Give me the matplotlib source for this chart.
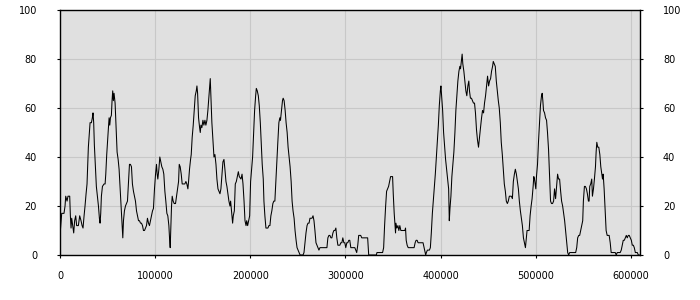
import numpy as np
import matplotlib
matplotlib.use("Agg")
import matplotlib.pyplot as plt

# positions in thousands, values in percent
pos_k = [
    0, 1.8, 4.2, 5.3, 6.0, 7.4, 8.4, 10.2, 10.9, 11.6, 12.3, 13.3, 14.4, 15.4, 16.5,
    17.5, 19.3, 20.7, 22.1, 23.2, 24.2, 25.3, 26.3, 27.4, 28.4, 29.1, 29.8, 30.5,
    31.6, 33.0, 34.0, 34.7, 35.4, 36.1, 37.2, 38.2, 39.3, 40.4, 41.4, 42.1, 42.8,
    43.5, 44.6, 46.3, 47.4, 48.1, 49.1, 50.2, 50.9, 51.6, 52.3, 53.0, 54.0, 54.7,
    55.4, 56.1, 56.8, 57.9, 58.9, 60.0, 61.1, 62.1, 63.2, 64.2, 65.3, 66.0, 66.7,
    67.7, 68.8, 69.8, 70.9, 71.9, 73.0, 74.0, 75.1, 76.1, 77.2, 78.2, 79.3, 80.4,
    81.4, 82.5, 83.5, 84.6, 85.6, 86.7, 87.7, 88.8, 89.8, 90.9, 91.9, 93.0, 94.0,
    95.1, 96.1, 97.2, 98.2, 99.3, 100.4, 101.4, 102.1, 102.8, 103.9, 104.9, 106.0,
    107.0, 108.1, 109.1, 110.2, 111.2, 112.3, 113.3, 114.4, 115.1, 115.8, 116.5,
    117.2, 117.9, 118.9, 120.0, 121.4, 122.5, 123.5, 124.6, 125.3, 126.3, 127.4,
    128.4, 129.5, 131.2, 132.3, 133.3, 134.4, 135.1, 136.1, 137.2, 137.9, 138.9,
    140.0, 141.1, 142.1, 143.2, 143.9, 144.6, 145.6, 146.7, 147.4, 148.1, 149.1,
    150.2, 151.2, 152.3, 153.3, 154.4, 155.4, 156.5, 157.2, 157.9, 158.6, 159.6,
    160.7, 161.8, 162.8, 163.9, 164.9, 166.0, 167.0, 168.1, 169.1, 170.2, 171.2,
    172.3, 173.3, 174.4, 175.4, 176.5, 177.5, 178.6, 179.3, 180.0, 180.7, 181.4,
    182.1, 183.2, 184.2, 185.3, 186.3, 187.4, 188.4,
    190.2, 191.3, 192.3, 193.4, 194.4, 195.5, 196.2, 197.2, 198.3, 199.3, 200.3,
    201.4, 202.4, 203.5, 204.5, 205.6, 206.3, 207.3, 208.4, 209.4, 210.5, 211.5,
    212.5, 213.6, 214.3, 215.3, 216.4, 217.4, 218.5, 219.5, 220.6, 221.6, 222.6,
    223.7, 224.7, 225.8, 226.8, 227.9, 228.9, 230.0, 231.0, 231.7, 232.8, 233.8,
    234.5, 235.5, 236.6, 237.6, 238.7, 239.7, 240.8, 241.8, 242.9, 243.9, 244.9,
    246.0, 247.0, 248.1, 249.1, 250.2, 251.2, 252.3, 253.3, 254.4, 255.4, 256.4,
    257.5, 258.5, 259.6, 260.6, 261.7, 262.7, 263.8, 264.8, 265.9, 266.9, 267.9,
    269.0, 270.0, 271.1, 272.1, 273.2, 274.2, 275.3, 276.3, 277.4, 278.4, 279.4,
    280.5, 281.5, 282.6, 283.6, 284.7, 285.7, 286.8, 287.8, 288.9, 289.9, 290.9,
    292.0, 293.0, 294.1, 295.1, 296.2, 297.2, 298.3, 299.3, 300.3, 301.4, 302.4,
    303.5, 304.5, 305.6, 306.6, 307.7, 308.7, 309.8, 310.8, 311.8, 312.9, 313.9,
    315.0, 316.0, 317.1, 318.1, 319.2, 320.2, 321.3, 322.3, 323.3, 324.4, 328.6,
    332.4, 333.1, 334.1, 335.2, 337.3, 339.0, 340.1, 341.1, 342.2, 343.2, 344.3,
    345.3, 346.3, 347.4, 348.4, 349.5, 350.2, 351.2, 351.9, 352.6, 353.0, 354.0,
    355.1, 356.1, 357.1, 358.2, 359.2, 360.3, 361.3, 362.4, 363.1, 363.8, 364.8,
    365.9, 366.9, 368.0, 369.0, 370.0, 371.1, 372.1, 373.2, 374.2, 375.3, 376.3,
    377.4, 378.4, 379.4, 380.5, 381.5, 382.6, 383.6, 384.3, 385.0, 386.1, 387.1,
    388.2, 389.2, 390.2, 391.3, 392.3, 393.4, 394.4, 395.5, 396.5, 397.6, 398.6,
    399.7, 400.3, 401.0, 402.1, 403.1, 404.2, 405.2, 406.3, 407.3, 408.4, 409.1,
    409.8, 410.8, 411.8, 412.9, 413.9, 415.0, 416.0, 417.1, 418.1, 419.2, 420.2,
    420.9, 422.0, 422.6, 423.3, 424.4, 425.4, 426.5, 427.5, 428.6, 429.6,
    430.3, 431.3, 432.4, 433.5, 434.5, 435.6, 436.6, 437.7, 438.7, 439.8, 440.8,
    441.9, 443.0, 444.0, 445.1, 446.1, 447.2, 448.2, 449.3, 450.4, 451.4, 452.5,
    453.5, 454.6, 455.3, 456.3, 457.4, 458.5, 459.5, 460.6, 461.6, 462.7, 463.7,
    464.8, 465.8, 466.9, 468.0, 469.0, 470.1, 471.1, 472.2, 473.2, 474.3, 475.4,
    476.4, 477.5, 478.5, 479.6, 480.6, 481.7, 482.7, 483.8, 484.9, 485.9, 487.0,
    488.0, 489.1, 489.8, 490.8, 491.9, 493.0, 494.0, 495.1, 496.1, 497.2, 497.9,
    498.6, 499.3, 500.0, 500.7, 501.8, 502.8, 503.9, 504.9, 506.0, 506.7, 507.4,
    508.1, 509.2, 510.2, 511.3, 512.3, 513.4, 514.4, 515.5, 516.5, 517.6, 518.7,
    519.7, 520.8, 521.8, 522.9, 523.9, 525.0, 526.1, 527.1, 528.2, 529.2, 530.3,
    531.3, 532.4, 533.5, 534.5, 535.6, 536.6, 537.7, 538.7, 539.8, 540.8, 541.9,
    543.0, 544.0, 545.1, 546.1, 547.2, 548.2, 549.3, 550.0, 551.1, 552.1, 553.2,
    554.2, 555.3, 556.0, 556.7, 557.7, 558.8, 559.5, 560.6, 561.6, 562.7, 563.4,
    564.1, 565.1, 566.2, 567.3, 568.3, 569.4, 570.1, 570.8, 571.8, 572.9, 573.9,
    575.0, 576.1, 577.1, 578.2, 579.2, 580.3, 581.3, 582.4, 583.5, 584.5, 585.6,
    586.6, 587.7, 588.7, 589.8, 590.8, 591.9, 593.0, 594.0, 595.1, 596.1, 597.2,
    598.2, 599.3, 600.4, 601.4, 602.5, 603.5, 604.6, 605.6, 606.7, 607.7, 608.8,
]

values = [
    8, 17, 17, 20, 24, 22, 24, 24, 16, 11, 15, 12, 9, 14, 16,
    12, 12, 16, 14, 12, 11, 16, 20, 25, 29, 37, 44, 48,
    54, 54, 56, 58, 54, 45, 36, 28, 24, 20, 15, 13, 17,
    24, 28, 29, 29, 33, 41, 48, 52, 56, 53, 56, 57, 63,
    67, 63, 66, 62, 52, 42, 39, 35, 27, 19, 12, 7, 14,
    18, 20, 21, 22, 29, 37, 37, 36, 29, 26, 24, 22, 18,
    16, 14, 14, 13, 13, 12, 10, 10, 11, 12, 15, 13, 12,
    14, 16, 18, 19, 27, 33, 37, 33, 31, 35, 40, 38,
    36, 35, 33, 26, 22, 17, 16, 12, 7, 3, 12,
    20, 24, 22, 21, 21, 24, 27, 30, 37, 36, 33,
    29, 29, 29, 30, 29, 27, 30, 35, 39, 41, 48,
    53, 59, 65, 67, 69, 66, 56, 52, 50, 53, 52,
    55, 53, 55, 53, 55, 59, 65, 69, 72, 65, 54,
    47, 40, 41, 37, 31, 27, 26, 25, 27, 33, 38,
    39, 35, 30, 28, 25, 22, 20, 22, 19, 16, 13,
    16, 18, 29, 30, 32, 34, 32,
    31, 33, 29, 22, 14, 12, 14, 12, 14, 16, 30,
    35, 40, 50, 59, 65, 68, 67, 65, 61, 54, 45,
    37, 31, 22, 16, 11, 11, 11, 12, 12, 16, 18,
    21, 22, 22, 30, 39, 46, 54, 56, 55, 59, 63,
    64, 63, 59, 54, 50, 44, 40, 36, 30, 22, 18,
    15, 10, 6, 3, 2, 1, 0, 0, 0, 0, 1,
    5, 9, 12, 13, 13, 15, 15, 15, 16, 14, 10,
    5, 4, 3, 2, 3, 3, 3, 3, 3, 3, 3,
    3, 7, 8, 8, 7, 7, 9, 10, 10, 11, 7,
    4, 4, 4, 5, 5, 7, 5, 5, 3, 5, 5,
    6, 6, 3, 3, 3, 3, 3, 2, 1, 4, 8,
    8, 8, 7, 7, 7, 7, 7, 7, 7, 0, 0,
    0, 1, 1, 1, 1, 1, 3, 12, 20, 26, 27,
    28, 30, 32, 32, 32, 25, 17, 13, 9, 13, 11,
    12, 10, 12, 10, 10, 10, 10, 10, 11, 6, 4,
    3, 3, 3, 3, 3, 3, 3, 5, 6, 6, 5,
    5, 5, 5, 5, 5, 3, 1, 0, 1, 2, 2,
    2, 3, 9, 17, 22, 28, 33, 40, 47, 53, 61,
    67, 69, 65, 59, 50, 44, 39, 35, 31, 27, 14,
    19, 24, 32, 37, 42, 50, 59, 65, 71, 75, 77,
    76, 80, 82, 78, 75, 71, 67, 65, 69, 71,
    67, 64, 64, 63, 62, 62, 58, 51, 47, 44, 48,
    52, 56, 59, 58, 62, 65, 69, 73, 69, 71, 72,
    75, 77, 79, 78, 77, 71, 67, 63, 60, 54, 46,
    41, 35, 29, 26, 22, 21, 22, 24, 24, 24, 23,
    30, 33, 35, 33, 30, 27, 22, 18, 15, 12, 7,
    5, 3, 6, 10, 10, 10, 16, 20, 23, 28, 32,
    31, 29, 27, 32, 37, 46, 54, 61, 65, 66, 63,
    59, 58, 56, 55, 50, 43, 33, 22, 21, 21, 22,
    27, 23, 28, 33, 31, 31, 26, 22, 20, 17, 14,
    10, 6, 1, 0, 1, 1, 1, 1, 1, 1, 1,
    3, 7, 8, 8, 10, 12, 14, 22, 28, 28, 27,
    25, 22, 22, 28, 29, 31, 24, 27, 31, 36, 42,
    46, 44, 44, 41, 36, 33, 31, 33, 27, 18, 10,
    8, 8, 8, 5, 1, 1, 1, 1, 1, 0, 1,
    1, 1, 1, 2, 4, 6, 6, 7, 8, 7, 8,
    8, 7, 6, 4, 4, 3, 1, 1, 1, 0, 0,
]

x = np.array(pos_k) * 1000
y = np.array(values)

fig = plt.figure(figsize=(7, 3), dpi=100)
ax = fig.add_axes([60 / 700, 45 / 300, 580 / 700, 245 / 300])
ax.set_facecolor('#e0e0e0')

ax.plot(x, y, color='black', linewidth=0.75)

ax.set_xlim(0, 609500)
ax.set_ylim(0, 100)
ax.set_xticks(np.arange(0, 600001, 100000))
ax.set_yticks(np.arange(0, 101, 20))
ax.grid(color='#c8c8c8', linewidth=0.8)
ax.set_axisbelow(True)

ax.tick_params(axis='both', labelsize=7, length=2.5, width=0.8, color='black')
ax.tick_params(axis='y', right=True, labelright=True, pad=14)
ax.tick_params(axis='x', pad=9)
for s in ax.spines.values():
    s.set_color('black')
    s.set_linewidth(1.0)

fig.savefig('out.png', dpi=100)
